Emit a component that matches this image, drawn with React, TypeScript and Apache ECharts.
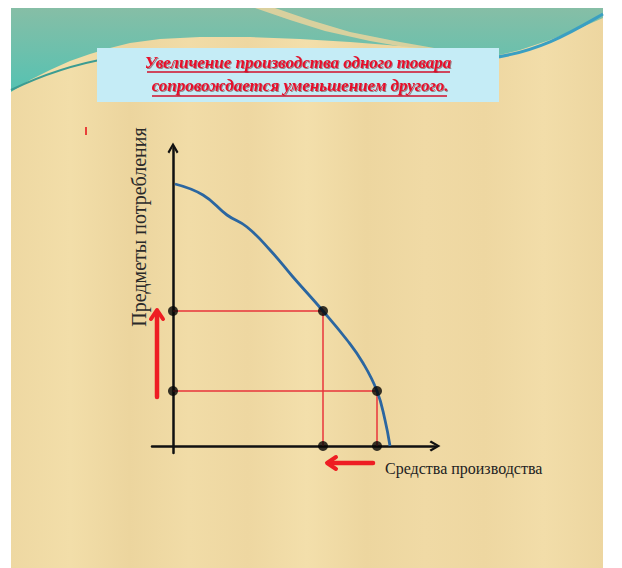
import React, { useEffect, useRef } from "react";
import * as echarts from "echarts";

// Production possibilities frontier (values in arbitrary units)
const curveX = [0.2, 3.0, 5.4, 7.4, 9.7, 12.0, 15.0, 17.4, 19.0, 20.4, 21.2, 21.7];
const curveY = [26.2, 25.1, 23.1, 21.9, 19.6, 16.9, 13.5, 10.6, 8.3, 5.5, 2.6, 0];
// Chosen combinations on the frontier
const guideX = [15.0, 20.4];
const guideY = [13.5, 5.5];

const titleLines = [
  "Увеличение производства одного товара",
  " сопровождается уменьшением другого.",
];
const yAxisName = "Предметы потребления";
const xAxisName = "Средства производства";

// Red direction arrows (data units)
const upArrowX = -1.6;
const upArrowFrom = 4.9;
const upArrowTo = 13.6;
const leftArrowY = -1.7;
const leftArrowFrom = 20.0;
const leftArrowTo = 15.4;

const SERIF = "'Liberation Serif', 'DejaVu Serif', serif";
const CHEVRON = "path://M5 0 L10 8.6 L8.4 10 L5 3.8 L1.6 10 L0 8.6 Z";

export default function App() {
  const ref = useRef<HTMLDivElement>(null);

  useEffect(() => {
    if (!ref.current) return;
    const chart = echarts.init(ref.current, null, { renderer: "svg", width: 622, height: 568 });

    const guideSeries = guideX.map((gx, i) => ({
      type: "line",
      data: [
        [0, guideY[i]],
        [gx, guideY[i]],
        [gx, 0],
      ],
      showSymbol: false,
      lineStyle: { color: "#e8353b", width: 1.5 },
      z: 3,
      silent: true,
    }));

    const points: number[][] = [];
    guideX.forEach((gx, i) => {
      points.push([0, guideY[i]], [gx, guideY[i]], [gx, 0]);
    });

    chart.setOption({
      animation: false,
      backgroundColor: "#ffffff",
      grid: { left: 152, right: 187, top: 148, bottom: 115 },
      xAxis: {
        type: "value",
        min: -2.1,
        max: 26.2,
        axisLine: {
          onZero: true,
          symbol: ["none", CHEVRON],
          symbolSize: [11, 11],
          lineStyle: { color: "#111", width: 2.5 },
        },
        axisTick: { show: false },
        axisLabel: { show: false },
        splitLine: { show: false },
      },
      yAxis: {
        type: "value",
        min: -0.7,
        max: 29.8,
        axisLine: {
          onZero: true,
          symbol: ["none", CHEVRON],
          symbolSize: [11, 11],
          lineStyle: { color: "#111", width: 2.5 },
        },
        axisTick: { show: false },
        axisLabel: { show: false },
        splitLine: { show: false },
      },
      series: [
        {
          type: "line",
          data: curveX.map((x, i) => [x, curveY[i]]),
          smooth: 0.45,
          showSymbol: false,
          lineStyle: { color: "#2b66a0", width: 2.8 },
          z: 4,
          silent: true,
        },
        ...guideSeries,
        {
          type: "scatter",
          data: points,
          symbolSize: 10,
          itemStyle: { color: "#050505" },
          z: 6,
          silent: true,
        },
      ],
    });

    const px = (x: number, y: number) => chart.convertToPixel({ gridIndex: 0 }, [x, y]) as number[];
    const upTail = px(upArrowX, upArrowFrom);
    const upTip = px(upArrowX, upArrowTo);
    const lTail = px(leftArrowFrom, leftArrowY);
    const lTip = px(leftArrowTo, leftArrowY);
    const red = "#ee1d23";

    const bgStops = [
      "#eed8a2", "#f2dea9", "#ecd59e", "#f1dca7", "#eed7a1", "#f3dfab",
      "#edd69f", "#f0daa5", "#eed7a1", "#f2dda9", "#edd6a0",
    ].map((c, i, a) => ({ offset: i / (a.length - 1), color: c }));

    const tealPts = [
      [11, 8], [603, 8], [603, 18], [580, 28], [550, 40], [520, 50], [495, 56],
      [470, 54], [440, 50], [400, 46], [350, 42], [300, 39], [250, 37], [200, 37],
      [160, 39], [130, 43], [110, 48], [90, 54], [70, 61], [50, 70], [30, 80], [11, 92],
    ];

    chart.setOption({
      graphic: [
        {
          type: "rect",
          z: -20,
          silent: true,
          shape: { x: 11, y: 8, width: 592, height: 560 },
          style: { fill: { type: "linear", x: 0, y: 0, x2: 1, y2: 0, colorStops: bgStops } },
        },
        {
          type: "polygon",
          z: -19,
          silent: true,
          shape: { points: tealPts },
          style: {
            fill: {
              type: "linear", x: 0, y: 0, x2: 0, y2: 1,
              colorStops: [
                { offset: 0, color: "#86bea6" },
                { offset: 1, color: "#55c2b2" },
              ],
            },
          },
        },
        {
          type: "polygon",
          z: -18,
          silent: true,
          shape: {
            points: [
              [255, 8], [275, 8], [310, 20], [350, 32], [400, 42], [440, 49],
              [415, 49], [370, 41], [325, 31], [290, 20],
            ],
          },
          style: { fill: "#e9d49c", opacity: 0.85 },
        },
        {
          type: "bezierCurve",
          z: -17,
          silent: true,
          shape: { x1: 490, y1: 58, x2: 603, y2: 14, cpx1: 540, cpy1: 52, cpx2: 575, cpy2: 30 },
          style: { stroke: "#3a9fc2", lineWidth: 3, fill: null },
        },
        {
          type: "bezierCurve",
          z: -17,
          silent: true,
          shape: { x1: 11, y1: 90, x2: 110, y2: 58, cpx1: 40, cpy1: 76, cpx2: 75, cpy2: 64 },
          style: { stroke: "#3c9c92", lineWidth: 2, fill: null },
        },
        {
          type: "rect",
          z: -16,
          silent: true,
          shape: { x: 97, y: 48, width: 402, height: 54 },
          style: { fill: "#c5ecf6" },
        },
        ...titleLines.map((t, i) => ({
          type: "text",
          z: 10,
          silent: true,
          x: 298,
          y: 62 + i * 23,
          style: {
            text: t,
            align: "center",
            verticalAlign: "middle",
            fontFamily: SERIF,
            fontStyle: "italic",
            fontWeight: "bold",
            fontSize: 17,
            fill: "#e8102a",
            textShadowColor: "rgba(90,0,0,0.45)",
            textShadowBlur: 1,
            textShadowOffsetX: 1,
            textShadowOffsetY: 1,
          },
        })),
        {
          type: "line",
          z: 10,
          silent: true,
          shape: { x1: 147, y1: 72, x2: 450, y2: 72 },
          style: { stroke: "#d0102a", lineWidth: 1.3 },
        },
        {
          type: "line",
          z: 10,
          silent: true,
          shape: { x1: 152, y1: 96, x2: 447, y2: 96 },
          style: { stroke: "#d0102a", lineWidth: 1.3 },
        },
        {
          type: "line",
          z: 10,
          silent: true,
          shape: { x1: 86, y1: 127, x2: 86, y2: 135 },
          style: { stroke: "#e8403a", lineWidth: 2 },
        },
        {
          type: "text",
          z: 10,
          silent: true,
          x: 139,
          y: 227,
          rotation: Math.PI / 2,
          style: {
            text: yAxisName,
            align: "center",
            verticalAlign: "middle",
            fontFamily: SERIF,
            fontSize: 20,
            fill: "#2a2a2a",
          },
        },
        {
          type: "text",
          z: 10,
          silent: true,
          x: 385,
          y: 468,
          style: {
            text: xAxisName,
            align: "left",
            verticalAlign: "middle",
            fontFamily: SERIF,
            fontSize: 16,
            fill: "#222",
          },
        },
        // up arrow
        {
          type: "polyline",
          z: 10,
          silent: true,
          shape: { points: [upTail, [upTip[0], upTip[1] + 2]] },
          style: { stroke: red, lineWidth: 4.5, lineCap: "round", fill: null },
        },
        {
          type: "polyline",
          z: 10,
          silent: true,
          shape: {
            points: [
              [upTip[0] - 6, upTip[1] + 9],
              [upTip[0], upTip[1]],
              [upTip[0] + 6, upTip[1] + 9],
            ],
          },
          style: { stroke: red, lineWidth: 4, lineCap: "round", lineJoin: "round", fill: null },
        },
        // left arrow
        {
          type: "polyline",
          z: 10,
          silent: true,
          shape: { points: [lTail, [lTip[0] + 2, lTip[1]]] },
          style: { stroke: red, lineWidth: 4.5, lineCap: "round", fill: null },
        },
        {
          type: "polyline",
          z: 10,
          silent: true,
          shape: {
            points: [
              [lTip[0] + 9, lTip[1] - 6],
              [lTip[0], lTip[1]],
              [lTip[0] + 9, lTip[1] + 6],
            ],
          },
          style: { stroke: red, lineWidth: 4, lineCap: "round", lineJoin: "round", fill: null },
        },
      ],
    });

    return () => chart.dispose();
  }, []);

  return (
    <div
      ref={ref}
      style={{ position: "fixed", left: 0, top: 0, width: 622, height: 568 }}
    />
  );
}
